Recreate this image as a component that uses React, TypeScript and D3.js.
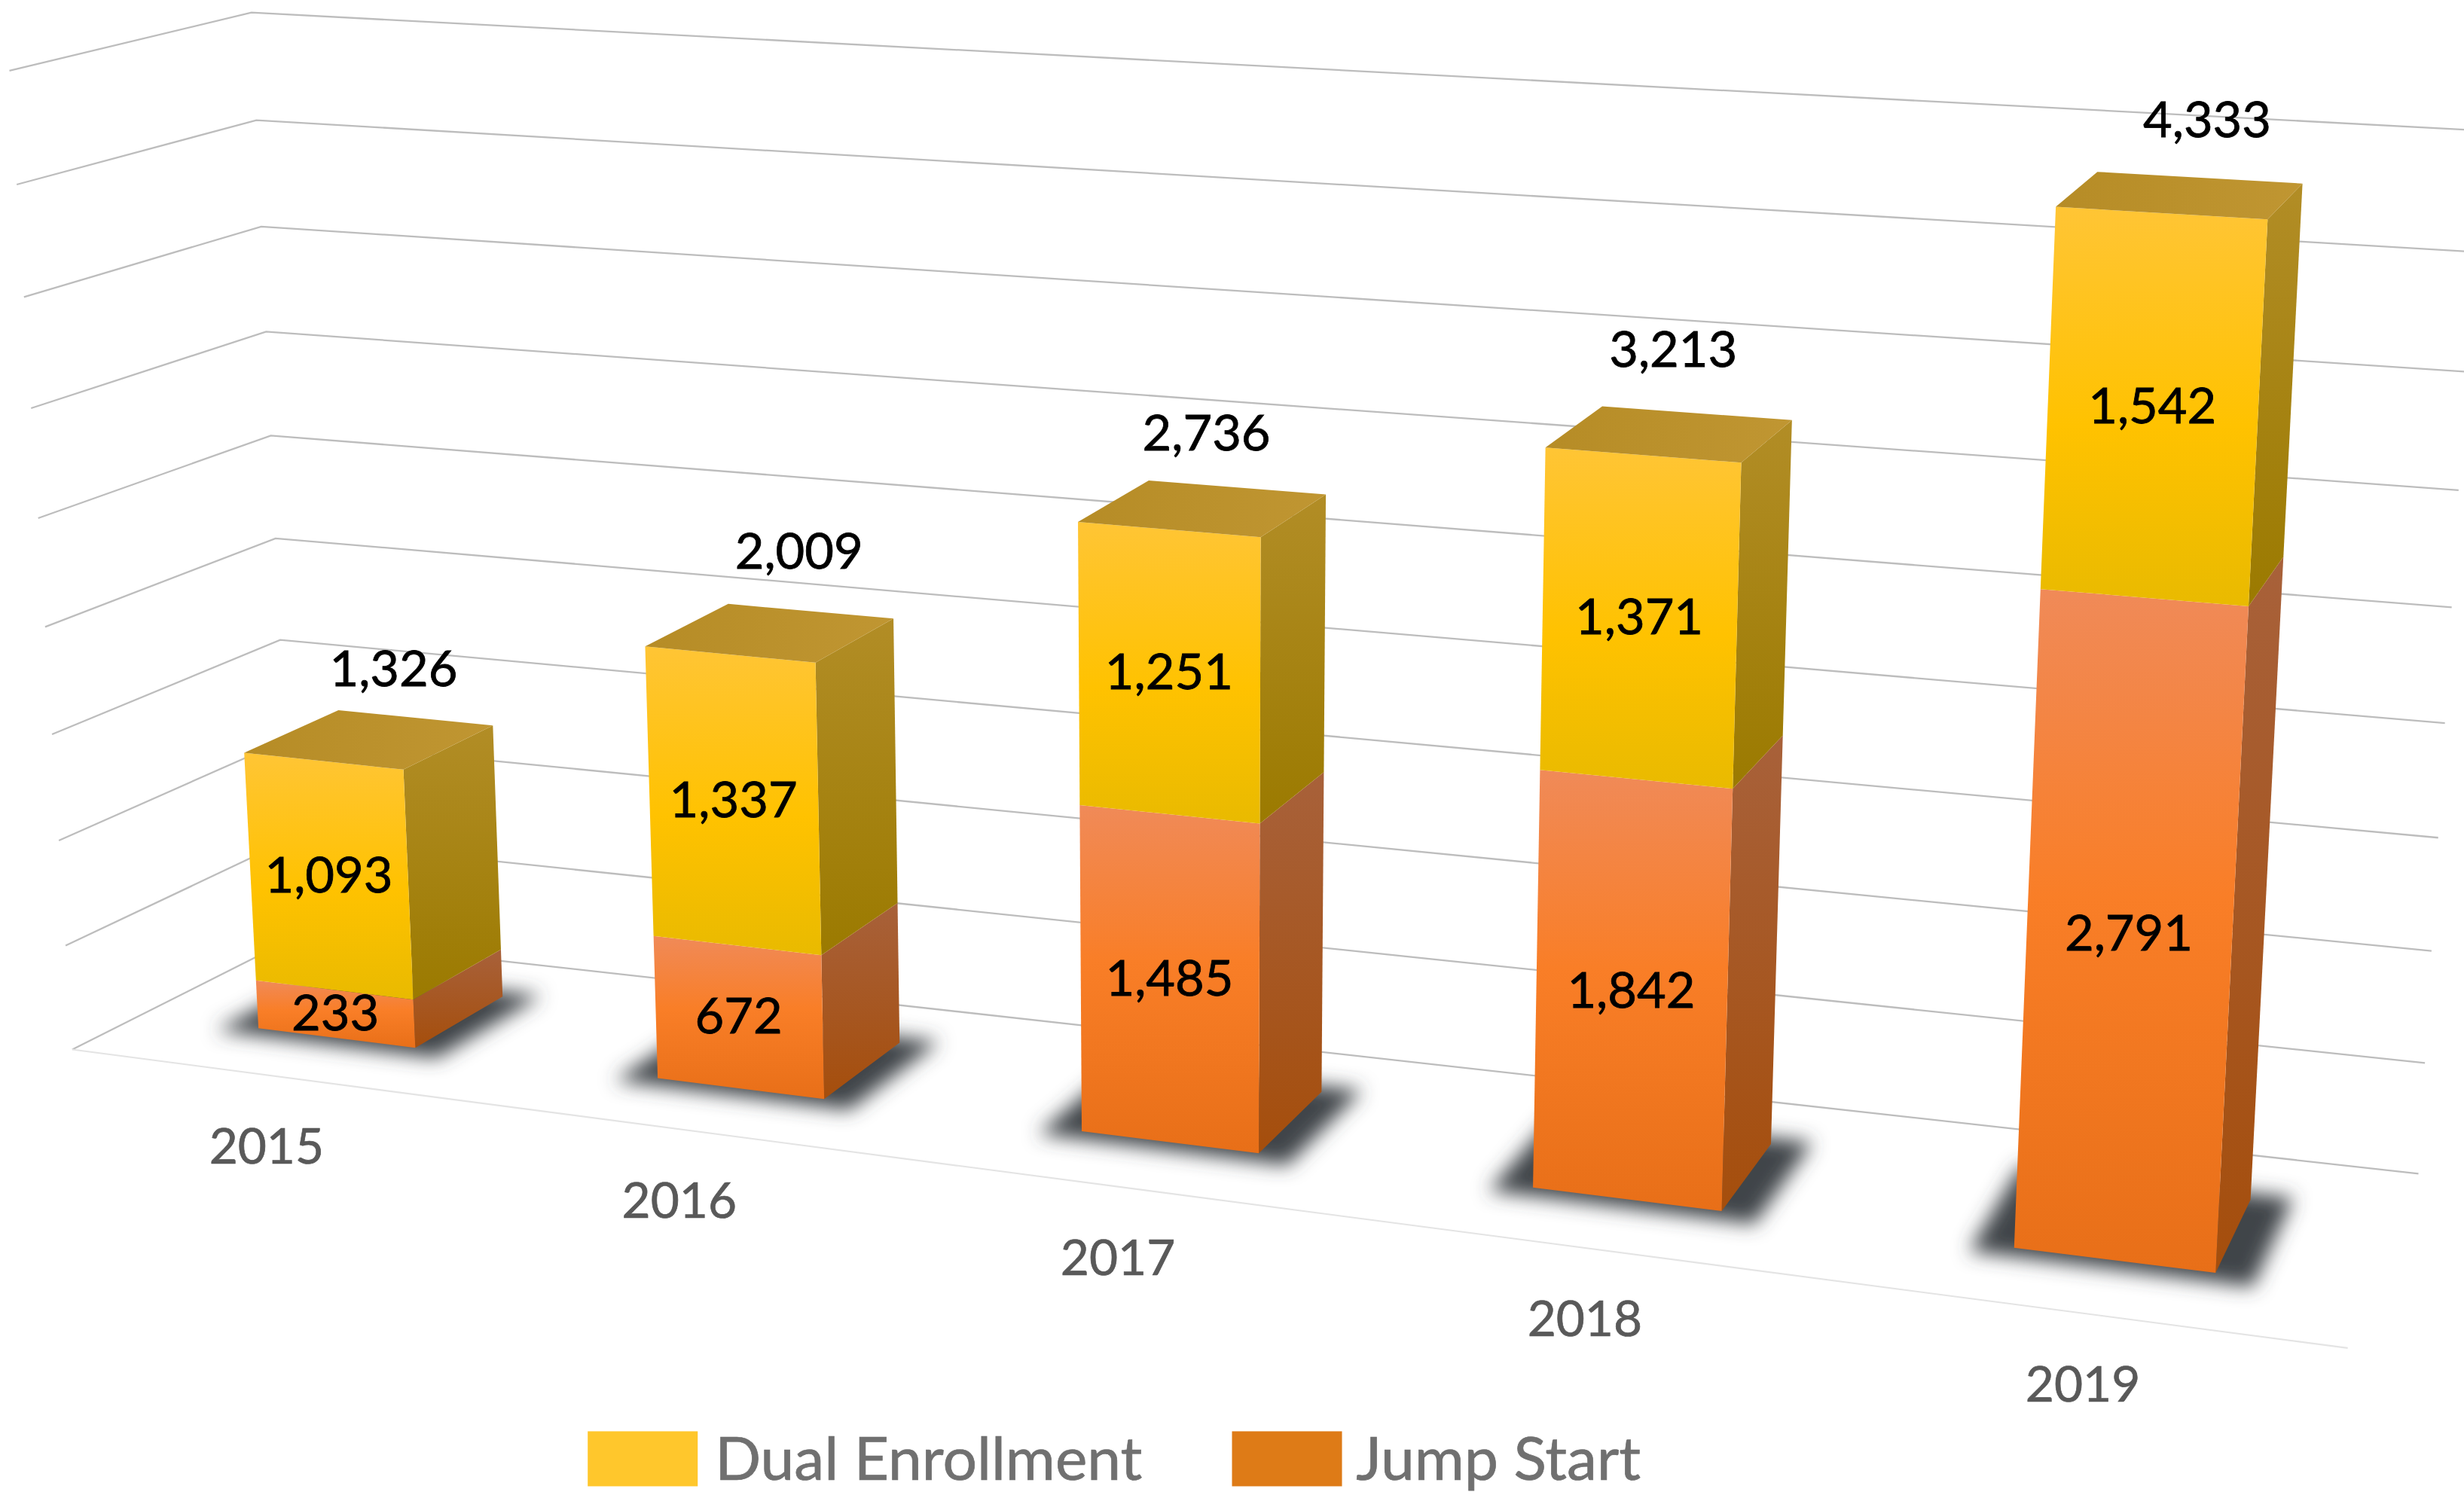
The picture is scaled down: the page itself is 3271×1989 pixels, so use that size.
// App.tsx
import React from "react";
import * as d3 from "d3";

const categories = ["2015", "2016", "2017", "2018", "2019"];
const jumpStart = [233, 672, 1485, 1842, 2791];
const dualEnrollment = [1093, 1337, 1251, 1371, 1542];
const gridTicks = d3.range(0, 4501, 500);
const legendLabels = ["Dual Enrollment", "Jump Start"];

// drawing units are the shrunk 1568 wide picture, the viewBox scales them up
const WIDTH = 1568;
const HEIGHT = (1568 * 1989) / 3271;

// corners of the 3D box on screen: [x, y]
const floorCorners = { fl: [46, 668], fr: [1494, 858], bl: [187, 597], br: [1539, 747] };
const topCorners = { fl: [6, 45], fr: [1534, 135], bl: [160, 8], br: [1578, 83] };

// perspective bend along each axis
const BEND_X = 0.855;
const BEND_Y = 0.95;
const BEND_Z = 1.08;
const bend = (t: number, k: number) => (k * t) / (1 + (k - 1) * t);

const xScale = d3.scaleBand<string>().domain(categories).range([0, 1]).paddingInner(0.6).paddingOuter(0.3);
const yScale = d3.scaleLinear().domain([0, 4500]).range([0, 1]);
const Z_FRONT = 0.3035;
const Z_BACK = 0.735;

const corner = (c: typeof floorCorners, tx: number, tz: number, i: number) =>
  c.fl[i] * (1 - tx) * (1 - tz) + c.fr[i] * tx * (1 - tz) + c.bl[i] * (1 - tx) * tz + c.br[i] * tx * tz;

// x and z go 0..1 across the floor, value is in chart units
const project = (x: number, value: number, z: number): [number, number] => {
  const tx = bend(x, BEND_X);
  const tz = bend(z, BEND_Z);
  const th = bend(yScale(value), BEND_Y);
  return [
    corner(floorCorners, tx, tz, 0) * (1 - th) + corner(topCorners, tx, tz, 0) * th,
    corner(floorCorners, tx, tz, 1) * (1 - th) + corner(topCorners, tx, tz, 1) * th,
  ];
};

const line = d3.line();
const poly = (pts: [number, number][]) => line(pts) + "Z";

const stacked = d3
  .stack<number>()
  .keys(["jump", "dual"])
  .value((i, key) => (key === "jump" ? jumpStart[i] : dualEnrollment[i]))(categories.map((_, i) => i));

const fmt = d3.format(",");

// the total labels do not sit at the same spot above each column
const totalNudge: [number, number][] = [
  [15, -45],
  [18, -52],
  [2, -48],
  [2, -54],
  [17, -48],
];

const FONT = "Lato, Carlito, sans-serif";

const Bar = ({ index }: { index: number }) => {
  const cat = categories[index];
  const x0 = xScale(cat)!;
  const x1 = x0 + xScale.bandwidth();
  const total = stacked[1][index][1];
  return (
    <g>
      {stacked.map((layer) => {
        const [v0, v1] = layer[index];
        const front = poly([project(x0, v0, Z_FRONT), project(x1, v0, Z_FRONT), project(x1, v1, Z_FRONT), project(x0, v1, Z_FRONT)]);
        const side = poly([project(x1, v0, Z_FRONT), project(x1, v0, Z_BACK), project(x1, v1, Z_BACK), project(x1, v1, Z_FRONT)]);
        return (
          <g key={layer.key}>
            <path d={side} fill={`url(#side-${layer.key})`} />
            <path d={front} fill={`url(#front-${layer.key})`} />
          </g>
        );
      })}
      <path
        d={poly([project(x0, total, Z_FRONT), project(x1, total, Z_FRONT), project(x1, total, Z_BACK), project(x0, total, Z_BACK)])}
        fill="url(#top-dual)"
      />
    </g>
  );
};

const Shadow = ({ index }: { index: number }) => {
  const x0 = xScale(categories[index])! - 0.016;
  const x1 = x0 + xScale.bandwidth() + 0.032;
  const z0 = Z_FRONT - 0.05;
  const z1 = Z_BACK + 0.04;
  return (
    <path
      d={poly([project(x0, 0, z0), project(x1, 0, z0), project(x1, 0, z1), project(x0, 0, z1)])}
      fill="#3f4448"
      filter="url(#soft)"
    />
  );
};

export default function App() {
  return (
    <svg
      width={3271}
      height={1989}
      viewBox={`0 0 ${WIDTH} ${HEIGHT}`}
      style={{ position: "absolute", left: 0, top: 0, display: "block", background: "#fff" }}
    >
      <defs>
        <filter id="soft" x="-40%" y="-40%" width="180%" height="180%">
          <feGaussianBlur stdDeviation="6" />
        </filter>
        <linearGradient id="front-dual" x1="0" y1="0" x2="0" y2="1">
          <stop offset="0" stopColor="#FFC535" />
          <stop offset="0.55" stopColor="#FFC200" />
          <stop offset="1" stopColor="#E9BA00" />
        </linearGradient>
        <linearGradient id="side-dual" x1="0" y1="0" x2="0" y2="1">
          <stop offset="0" stopColor="#B28D26" />
          <stop offset="1" stopColor="#9B7A00" />
        </linearGradient>
        <linearGradient id="top-dual" x1="0" y1="0" x2="1" y2="0">
          <stop offset="0" stopColor="#B68C26" />
          <stop offset="1" stopColor="#C09632" />
        </linearGradient>
        <linearGradient id="front-jump" x1="0" y1="0" x2="0" y2="1">
          <stop offset="0" stopColor="#F08A58" />
          <stop offset="0.45" stopColor="#F97E27" />
          <stop offset="1" stopColor="#E86F18" />
        </linearGradient>
        <linearGradient id="side-jump" x1="0" y1="0" x2="0" y2="1">
          <stop offset="0" stopColor="#A8613A" />
          <stop offset="1" stopColor="#A54E0C" />
        </linearGradient>
      </defs>

      {gridTicks.map((t) => (
        <path
          key={t}
          d={line([project(0, t, 0), project(0, t, 1), project(1, t, 1)])!}
          fill="none"
          stroke="#bdbdbd"
          strokeWidth={1.1}
        />
      ))}
      <path d={line([project(0, 0, 0), project(1, 0, 0)])!} fill="none" stroke="#e4e4e4" strokeWidth={1} />

      {categories.map((_, i) => (
        <Shadow key={i} index={i} />
      ))}
      {categories.map((_, i) => (
        <Bar key={i} index={i} />
      ))}

      <g fontFamily={FONT} textAnchor="middle">
        {categories.map((cat, i) => {
          const x0 = xScale(cat)!;
          const xc = x0 + xScale.bandwidth() / 2;
          const [tx, ty] = project(xc, 0, 0);
          const total = stacked[1][i][1];
          const [topX, topY] = project(xc, total, (Z_FRONT + Z_BACK) / 2);
          return (
            <g key={cat}>
              <text x={tx - 2} y={ty + 45} dy=".35em" fontSize={31.5} fill="#595959" stroke="#595959" strokeWidth={0.35}>
                {cat}
              </text>
              {stacked.map((layer) => {
                const [v0, v1] = layer[i];
                const [lx, ly] = project(xc, (v0 + v1) / 2, Z_FRONT);
                return (
                  <text key={layer.key} x={lx} y={ly - 1} dy=".35em" fontSize={32} fill="#000" stroke="#000" strokeWidth={0.4}>
                    {fmt(v1 - v0)}
                  </text>
                );
              })}
              <text
                x={topX + totalNudge[i][0]}
                y={topY + totalNudge[i][1]}
                dy=".35em"
                fontSize={32}
                fill="#000"
                stroke="#000"
                strokeWidth={0.4}
              >
                {fmt(total)}
              </text>
            </g>
          );
        })}
      </g>

      <g fontFamily={FONT} fontSize={38.5} fill="#707070" stroke="#707070" strokeWidth={0.35}>
        <rect x={374} y={911} width={70} height={35} fill="#FFC72C" stroke="none" />
        <text x={455} y={928.5} dy=".35em">
          {legendLabels[0]}
        </text>
        <rect x={784} y={911} width={70} height={35} fill="#DE7B17" stroke="none" />
        <text x={863} y={928.5} dy=".35em">
          {legendLabels[1]}
        </text>
      </g>
    </svg>
  );
}
